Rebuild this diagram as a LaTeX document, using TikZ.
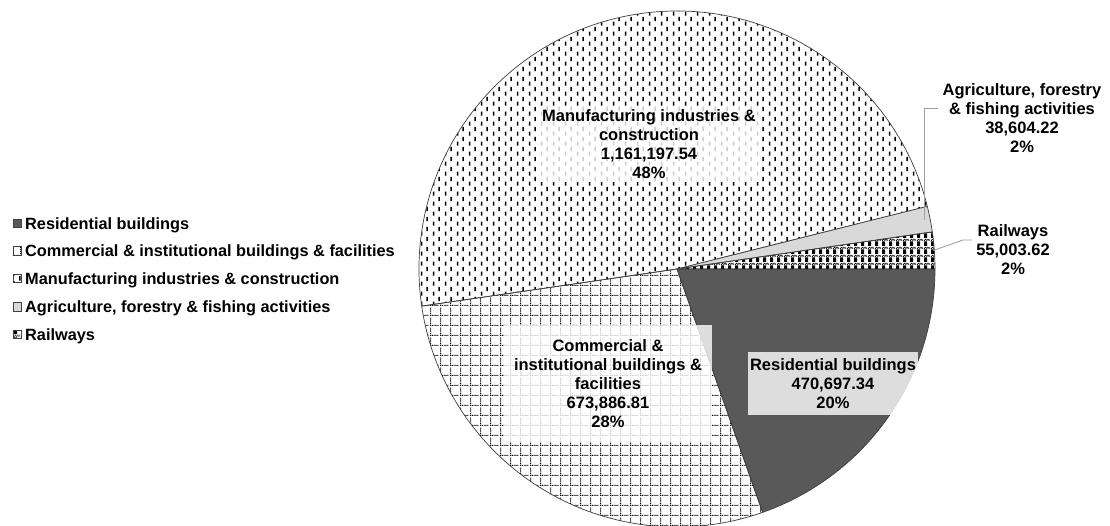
\documentclass[tikz,border=0pt]{standalone}
\usepackage{fontspec}
\setmainfont{Liberation Sans}
\usetikzlibrary{patterns,calc}
\definecolor{resgray}{HTML}{595959}
\definecolor{agrgray}{HTML}{D9D9D9}
\definecolor{edgegray}{HTML}{404040}
\definecolor{leadgray}{HTML}{A0A0A0}

\pgfdeclarepatternformonly{mandash}{\pgfqpoint{0pt}{0pt}}{\pgfqpoint{12pt}{10pt}}{\pgfqpoint{12pt}{10pt}}{%
  \pgfpathrectangle{\pgfqpoint{1pt}{0.3pt}}{\pgfqpoint{1.6pt}{4.6pt}}%
  \pgfpathrectangle{\pgfqpoint{7pt}{5.3pt}}{\pgfqpoint{1.6pt}{4.6pt}}%
  \pgfusepath{fill}}

\pgfdeclarepatternformonly{comgrid}{\pgfqpoint{0pt}{0pt}}{\pgfqpoint{10pt}{10pt}}{\pgfqpoint{10pt}{10pt}}{%
  \pgfpathrectangle{\pgfqpoint{0pt}{0pt}}{\pgfqpoint{1.2pt}{1.2pt}}%
  \pgfpathrectangle{\pgfqpoint{2pt}{0pt}}{\pgfqpoint{1.2pt}{1.2pt}}%
  \pgfpathrectangle{\pgfqpoint{4pt}{0pt}}{\pgfqpoint{1.2pt}{1.2pt}}%
  \pgfpathrectangle{\pgfqpoint{6pt}{0pt}}{\pgfqpoint{1.2pt}{1.2pt}}%
  \pgfpathrectangle{\pgfqpoint{8pt}{0pt}}{\pgfqpoint{1.2pt}{1.2pt}}%
  \pgfpathrectangle{\pgfqpoint{0pt}{2pt}}{\pgfqpoint{1.2pt}{1.2pt}}%
  \pgfpathrectangle{\pgfqpoint{0pt}{4pt}}{\pgfqpoint{1.2pt}{1.2pt}}%
  \pgfpathrectangle{\pgfqpoint{0pt}{6pt}}{\pgfqpoint{1.2pt}{1.2pt}}%
  \pgfpathrectangle{\pgfqpoint{0pt}{8pt}}{\pgfqpoint{1.2pt}{1.2pt}}%
  \pgfusepath{fill}}

\pgfdeclarepatternformonly{railcheck}{\pgfqpoint{0pt}{0pt}}{\pgfqpoint{7pt}{8pt}}{\pgfqpoint{7pt}{8pt}}{%
  \pgfpathrectangle{\pgfqpoint{0pt}{0pt}}{\pgfqpoint{3.5pt}{5pt}}%
  \pgfpathrectangle{\pgfqpoint{0pt}{5.6pt}}{\pgfqpoint{1pt}{1pt}}%
  \pgfpathrectangle{\pgfqpoint{2pt}{5.6pt}}{\pgfqpoint{1pt}{1pt}}%
  \pgfpathrectangle{\pgfqpoint{4pt}{5.6pt}}{\pgfqpoint{1pt}{1pt}}%
  \pgfpathrectangle{\pgfqpoint{6pt}{5.6pt}}{\pgfqpoint{1pt}{1pt}}%
  \pgfpathrectangle{\pgfqpoint{1pt}{6.8pt}}{\pgfqpoint{1pt}{1pt}}%
  \pgfpathrectangle{\pgfqpoint{3pt}{6.8pt}}{\pgfqpoint{1pt}{1pt}}%
  \pgfpathrectangle{\pgfqpoint{5pt}{6.8pt}}{\pgfqpoint{1pt}{1pt}}%
  \pgfusepath{fill}}

\tikzset{
  slice/.style={draw=edgegray, line width=0.7pt, line join=round},
  lbl/.style={fill=white, fill opacity=0.8, text opacity=1, align=center, inner sep=0pt,
    font=\bfseries\fontsize{16.5}{19}\selectfont},
  plainlbl/.style={align=center, inner sep=0pt, font=\bfseries\fontsize{16.5}{19}\selectfont},
  leader/.style={draw=leadgray, line width=0.9pt},
  legkey/.style={draw=edgegray, line width=0.5pt, minimum size=8.5pt, inner sep=0pt},
  legtxt/.style={anchor=base west, inner sep=0pt, font=\bfseries\fontsize{16.3}{19}\selectfont}
}

\begin{document}
\begin{tikzpicture}[x=1pt,y=1pt]
\useasboundingbox (0,0) rectangle (1110,526);
\clip (0,0) rectangle (1110,526);
\coordinate (c) at (677,257);
\def\R{258}

% slices
\fill[white] (c) circle[radius=\R];
\path[slice, fill=resgray] (c) -- ++(0:\R) arc[start angle=0, end angle=-70.62, radius=\R] -- cycle;
\path[slice, pattern=comgrid] (c) -- ++(-70.62:\R) arc[start angle=-70.62, end angle=-171.73, radius=\R] -- cycle;
\path[slice, pattern=mandash] (c) -- ++(-171.73:\R) arc[start angle=-171.73, end angle=-345.95, radius=\R] -- cycle;
\path[slice, fill=agrgray] (c) -- ++(-345.95:\R) arc[start angle=-345.95, end angle=-351.74, radius=\R] -- cycle;
\path[slice, pattern=railcheck] (c) -- ++(-351.74:\R) arc[start angle=-351.74, end angle=-360, radius=\R] -- cycle;

% data labels
\node[lbl, minimum width=222pt, minimum height=75pt] (manl) at (649,381.5)
  {Manufacturing industries \&\\construction\\1,161,197.54\\48\%};
\node[lbl, minimum width=208pt, minimum height=117pt] (coml) at (608,142.5)
  {Commercial \&\\institutional buildings \&\\facilities\\673,886.81\\28\%};
\node[lbl, minimum width=170pt, minimum height=63pt] (resl) at (833,142.5)
  {Residential buildings\\470,697.34\\20\%};
\node[plainlbl] (agrl) at (1022,407.5)
  {Agriculture, forestry\\\& fishing activities\\38,604.22\\2\%};
\node[plainlbl] (raill) at (1013,276)
  {Railways\\55,003.62\\2\%};

% leader lines
\coordinate (agrp) at ($(c)+(11.15:252)$);
\coordinate (agre) at (938,418);
\coordinate (raip) at ($(c)+(4.13:257)$);
\coordinate (raik) at (963,286);
\coordinate (raie) at (972,286);
\draw[leader] (agre) -- (agrp |- agre) -- (agrp);
\draw[leader] (raie) -- (raik) -- (raip);

% legend
\node[legkey, fill=resgray] (k1) at (17,302.7) {};
\node[legkey, pattern=comgrid] (k2) at (17,275) {};
\node[legkey, pattern=mandash] (k3) at (17,247.7) {};
\node[legkey, fill=agrgray] (k4) at (17,219.3) {};
\node[legkey, pattern=railcheck] (k5) at (17,191.7) {};
\node[legtxt] (t1) at (25,296.9) {Residential buildings};
\node[legtxt] (t2) at (25,269.2) {Commercial \& institutional buildings \& facilities};
\node[legtxt] (t3) at (25,241.9) {Manufacturing industries \& construction};
\node[legtxt] (t4) at (25,213.5) {Agriculture, forestry \& fishing activities};
\node[legtxt] (t5) at (25,185.9) {Railways};
\end{tikzpicture}
\end{document}
